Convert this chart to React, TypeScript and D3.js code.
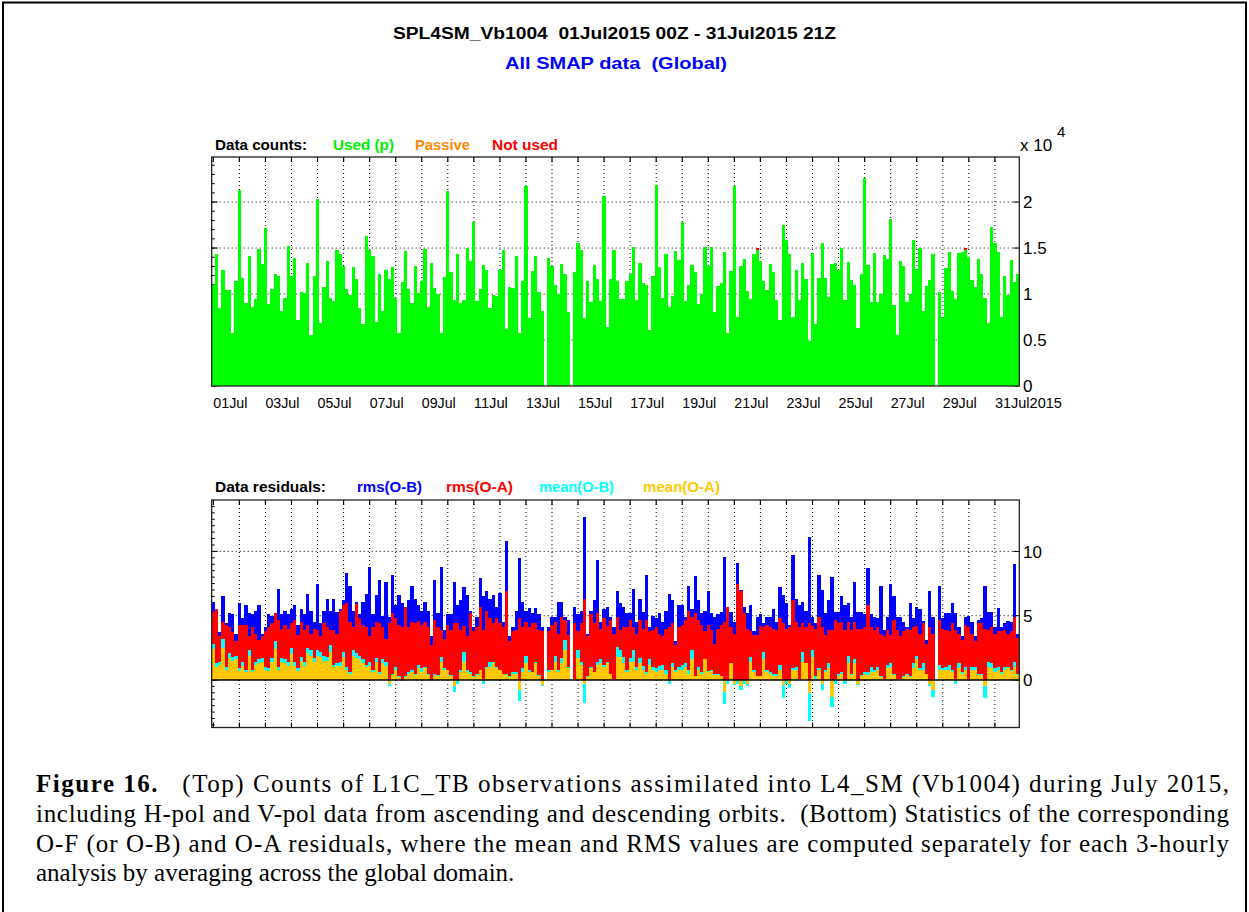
import React from 'react'
import * as d3 from 'd3'

const START = Date.UTC(2015, 6, 1, 0)
const STEP = 3 * 3600 * 1000
const DAY = 24 * 3600 * 1000

// used L1C_TB obs per 3-hourly analysis (x 10^4)
const usedCounts = [
  1.1, 1.43, 0.85, 1.26, 1.04, 1.04, 0.58, 1.14, 2.13, 1.17,
  0.9, 1.41, 0.86, 0.95, 1.49, 1.33, 1.72, 0.89, 1.05, 1.22,
  1.2, 0.82, 0.96, 1.52, 1.2, 1.39, 0.72, 1.02, 1.01, 1.34,
  0.55, 1.2, 2.03, 0.69, 1.08, 1.36, 0.96, 0.92, 1.48, 1.43,
  1.31, 1.05, 0.99, 1.29, 1.16, 0.85, 0.67, 1.63, 1.48, 1.41,
  0.7, 1.22, 0.82, 1.26, 1.16, 1.29, 0.96, 0.58, 1.13, 1.47,
  1.05, 0.9, 1.3, 1.01, 1.14, 1.49, 0.86, 1.34, 1.07, 1.0,
  0.58, 1.18, 2.12, 1.24, 0.94, 1.44, 0.9, 0.94, 1.5, 1.36,
  1.78, 0.92, 1.05, 1.32, 1.26, 0.85, 0.99, 0.98, 1.26, 1.48,
  0.62, 1.08, 1.07, 1.41, 0.58, 1.14, 2.17, 0.74, 1.25, 1.41,
  1.02, 0.82, 0, 1.39, 1.31, 1.1, 1.0, 1.33, 1.22, 0.8,
  0, 1.24, 1.56, 1.48, 0.74, 1.14, 0.91, 1.32, 1.16, 0.92,
  2.07, 0.64, 1.16, 1.48, 1.14, 0.95, 0.95, 1.14, 1.22, 1.51,
  0.93, 1.34, 1.12, 1.1, 0.61, 1.2, 2.19, 1.29, 0.96, 1.44,
  0.86, 0.98, 1.47, 1.37, 1.78, 0.92, 1.1, 1.32, 1.24, 0.89,
  1.0, 1.51, 1.3, 1.51, 0.81, 1.09, 1.12, 1.46, 0.58, 1.25,
  2.18, 0.75, 1.31, 1.38, 1.03, 0.95, 1.43, 1.48, 1.36, 1.14,
  1.04, 1.33, 1.24, 0.93, 0.72, 1.75, 1.59, 1.44, 0.75, 1.26,
  0.93, 1.34, 1.16, 0.49, 1.45, 0.67, 1.17, 1.55, 1.17, 0.97,
  1.33, 1.34, 1.26, 1.5, 0.93, 1.35, 1.15, 1.1, 0.63, 1.22,
  2.26, 1.32, 0.91, 1.45, 0.91, 1.0, 1.42, 1.38, 1.82, 0.88,
  0.55, 1.36, 1.31, 0.91, 1.0, 1.59, 1.27, 1.5, 0.82, 1.09,
  1.15, 1.44, 0, 1.02, 0.75, 1.28, 1.46, 1.03, 0.95, 1.45,
  1.46, 1.48, 1.4, 1.15, 1.08, 1.38, 1.22, 0.96, 0.69, 1.73,
  1.55, 1.46, 0.75, 1.2, 0.99, 1.37, 1.13, 1.22,
]

// not used obs (x 10^4), only non-zero analyses
const notUsedIdx = [167, 231]
const notUsedCounts = [0.02, 0.02]

const rmsOB = [
  6.1, 5.5, 3.7, 6.5, 4.4, 5.2, 5.1, 3.6, 6.0, 4.8,
  5.8, 5.2, 5.1, 5.4, 5.8, 3.6, 4.1, 5.1, 5.0, 5.1,
  7.1, 5.1, 5.4, 5.1, 5.5, 5.8, 4.3, 5.5, 5.1, 6.7,
  5.4, 4.5, 7.5, 4.4, 5.4, 6.3, 5.4, 6.3, 5.3, 5.5,
  6.2, 8.3, 7.3, 5.4, 6.1, 5.1, 6.1, 6.7, 8.8, 5.1,
  6.6, 7.8, 5.0, 7.6, 4.9, 8.2, 5.8, 6.6, 6.0, 5.7,
  6.2, 7.3, 6.3, 5.8, 5.4, 6.1, 5.4, 3.4, 7.8, 5.2,
  8.8, 3.9, 5.1, 5.1, 7.6, 5.8, 6.2, 7.2, 6.6, 5.4,
  4.1, 4.9, 7.9, 6.5, 6.9, 6.3, 6.6, 5.7, 6.8, 4.5,
  10.8, 3.4, 4.1, 5.4, 9.5, 6.1, 5.4, 5.6, 5.2, 5.6,
  5.1, 4.1, 0, 4.1, 4.9, 4.9, 6.1, 6.1, 4.9, 4.7,
  0, 5.7, 5.1, 5.4, 12.7, 3.6, 5.4, 6.2, 9.3, 4.5,
  5.5, 5.7, 4.9, 4.1, 6.9, 6.0, 5.7, 5.2, 5.2, 7.1,
  4.5, 6.3, 5.3, 8.2, 4.1, 5.0, 4.8, 5.2, 4.5, 5.4,
  6.7, 6.2, 3.0, 5.8, 5.8, 4.9, 7.3, 5.5, 8.1, 6.2,
  5.2, 5.4, 6.9, 5.2, 4.9, 5.1, 5.3, 9.6, 5.1, 5.3,
  4.5, 9.1, 7.0, 5.7, 5.2, 5.8, 3.8, 4.9, 5.1, 4.4,
  4.9, 4.9, 5.5, 4.5, 7.2, 6.6, 6.0, 4.3, 9.7, 6.3,
  5.8, 6.1, 5.4, 11.1, 4.9, 4.4, 8.2, 7.0, 5.2, 6.2,
  8.0, 5.3, 5.3, 6.5, 5.8, 6.0, 4.9, 7.6, 5.3, 5.3,
  5.1, 8.7, 5.1, 4.9, 4.8, 7.3, 3.9, 4.9, 7.5, 6.5,
  4.9, 4.9, 4.5, 4.1, 6.0, 4.8, 5.7, 5.5, 4.6, 3.1,
  6.9, 4.9, 0, 7.3, 4.8, 5.2, 5.2, 6.0, 5.2, 4.1,
  3.4, 4.9, 5.0, 4.5, 3.4, 4.7, 4.8, 7.3, 5.3, 5.3,
  4.1, 5.6, 4.1, 4.4, 4.6, 4.5, 9.0, 3.6,
]

const rmsOA = [
  5.3, 5.5, 3.4, 4.5, 4.3, 4.1, 3.7, 3.0, 4.3, 4.3,
  4.3, 3.4, 4.1, 3.6, 3.1, 3.4, 3.8, 4.1, 4.4, 5.2,
  4.7, 4.0, 4.3, 4.0, 4.4, 4.7, 3.5, 4.5, 3.9, 4.3,
  3.6, 4.0, 3.9, 3.4, 4.4, 4.1, 3.9, 3.9, 3.6, 5.4,
  5.8, 6.0, 4.5, 4.1, 5.9, 4.8, 4.3, 4.1, 3.4, 4.1,
  4.5, 4.4, 4.1, 3.2, 4.4, 5.2, 4.8, 4.3, 4.1, 5.7,
  4.1, 4.5, 4.4, 4.6, 4.3, 4.5, 4.1, 2.7, 4.7, 4.1,
  3.9, 3.2, 4.3, 3.9, 4.4, 4.4, 3.9, 4.2, 3.4, 5.2,
  3.8, 4.1, 5.7, 3.9, 5.4, 4.8, 4.4, 4.8, 4.4, 4.1,
  6.9, 3.0, 3.8, 3.9, 4.8, 4.1, 4.5, 4.1, 4.4, 4.4,
  3.9, 3.8, 0, 3.8, 4.3, 4.5, 3.6, 4.9, 4.7, 3.5,
  0, 4.4, 3.8, 4.4, 6.3, 3.4, 5.1, 4.4, 5.2, 4.0,
  4.8, 4.2, 4.7, 3.6, 4.9, 3.9, 4.1, 4.1, 4.7, 4.1,
  3.6, 4.7, 4.0, 4.7, 3.8, 3.9, 4.1, 3.6, 3.4, 4.0,
  4.1, 4.4, 2.7, 4.1, 4.3, 4.7, 5.4, 4.9, 5.2, 4.7,
  4.3, 3.8, 4.3, 3.9, 2.8, 4.0, 4.3, 4.5, 5.7, 4.1,
  3.6, 7.5, 6.9, 5.2, 4.0, 3.8, 3.5, 3.5, 4.2, 4.1,
  4.3, 4.1, 4.0, 3.9, 4.8, 4.4, 4.0, 4.1, 6.2, 4.5,
  4.1, 4.4, 4.1, 4.4, 4.2, 4.0, 4.9, 4.1, 3.5, 3.9,
  3.9, 4.7, 4.4, 4.5, 3.9, 4.5, 3.9, 4.5, 4.0, 4.0,
  4.1, 5.8, 4.1, 3.9, 4.1, 3.6, 3.4, 3.9, 3.5, 4.7,
  3.9, 3.4, 3.8, 4.0, 3.9, 4.1, 4.2, 3.6, 4.4, 2.8,
  4.1, 3.6, 0, 4.7, 4.0, 3.9, 3.8, 4.4, 3.9, 3.6,
  3.1, 4.3, 4.1, 3.6, 3.0, 4.4, 4.4, 4.0, 3.9, 4.1,
  3.6, 3.8, 3.8, 3.9, 3.6, 3.8, 4.9, 3.3,
]

const meanOB = [
  2.8, 1.3, 1.4, 3.2, 1.0, 2.1, 1.8, 1.9, 0.9, 1.4,
  0.8, 2.3, 0.8, 1.4, 1.6, 1.7, 1.0, 0.9, 1.7, 3.0,
  1.0, 1.7, 1.6, 1.4, 2.5, 1.4, 0.9, 1.8, 1.4, 2.5,
  2.3, 1.7, 2.3, 2.2, 1.9, 1.8, 2.7, 1.2, 1.3, 1.4,
  2.2, 1.0, 0.6, 2.3, 2.1, 1.9, 1.6, 1.2, 1.4, 0.8,
  1.7, 0.6, 1.6, 1.4, -0.5, 0.5, 1.0, 0.3, -0.05, 0.3,
  0.6, 0.8, 0.5, 1.2, 0.9, 1.0, 0.5, -0.1, 0.5, 0.4,
  1.8, 0.9, 0.8, 0.4, -0.9, -0.3, 0.8, 2.2, 0.8, 0.6,
  0.3, 0.5, 0.8, -0.3, 1.0, 1.4, 1.4, 1.0, 0.8, 0.5,
  0.5, 0.3, 0.6, 0.6, -1.6, 0.9, 1.9, 0.8, 0.6, 1.4,
  0.4, -0.5, 0, 0.8, 0.8, 1.9, 0.8, 1.7, 3.1, 1.0,
  0, 0.1, 2.3, 1.4, -1.8, 0.3, 1.0, 0.6, 1.4, 1.6,
  1.2, 1.4, 0.5, 0.0, 2.6, 2.3, 1.8, 0.8, 1.7, 2.3,
  1.0, 1.7, 1.1, 0.6, 1.6, 1.0, 0.9, 1.1, 1.2, 0.8,
  -0.3, 1.3, 0.8, 1.0, 1.2, 1.3, 0.8, 2.3, 0.3, 1.0,
  0.6, 0.8, 0.7, 0.8, 0.5, 0.5, 0.3, -1.9, -0.3, 1.0,
  -0.4, -0.3, -0.8, -0.3, -0.5, 1.8, 0.8, 0.3, 0.3, 2.2,
  0.8, 0.6, 0.5, 0.5, 1.2, -1.4, -0.3, -0.6, 0.9, 1.0,
  0.1, 2.2, 1.3, -3.2, 2.3, 0.3, 0.9, -0.8, 0.8, 1.3,
  -2.1, -0.3, 0.5, 0.6, -0.3, 1.9, 0.5, 1.6, -0.4, 0.4,
  0.6, 0.6, 1.0, 0.8, 1.0, 0.3, 0.1, 1.2, 1.3, 0.5,
  0.1, 0.1, 0.3, 0.5, 0.3, 1.3, 1.9, 0.9, 1.3, 0.5,
  -0.5, -1.3, 0, 1.2, 0.9, 1.0, 1.2, 0.8, -0.3, 1.3,
  0.6, 1.0, -0.1, 1.0, 1.0, 0.5, 0.5, -1.4, 1.4, 1.3,
  0.9, 1.0, 0.6, 1.0, 1.0, 0.8, 1.4, 0.5,
]

const meanOA = [
  2.4, 1.0, 1.2, 2.5, 0.8, 1.7, 1.5, 1.6, 0.7, 1.1,
  0.6, 1.9, 0.6, 1.2, 1.3, 1.4, 0.8, 0.7, 1.4, 2.4,
  0.8, 1.4, 1.3, 1.1, 2.0, 1.1, 0.7, 1.5, 1.1, 2.1,
  1.9, 1.4, 1.9, 1.8, 1.5, 1.5, 2.2, 1.0, 1.1, 1.1,
  1.8, 0.8, 0.5, 1.9, 1.7, 1.6, 1.3, 1.0, 1.1, 0.6,
  1.4, 0.5, 1.3, 1.1, -0.3, 0.4, 0.8, 0.2, 0.0, 0.2,
  0.5, 0.6, 0.4, 0.9, 0.6, 0.9, 0.4, -0.05, 0.4, 0.3,
  1.4, 0.8, 0.8, 0.3, -0.5, -0.1, 0.6, 1.4, 0.6, 0.5,
  0.2, 0.4, 0.8, -0.1, 0.9, 1.0, 1.3, 0.9, 0.8, 0.5,
  0.4, 0.2, 0.5, 0.5, -0.8, 0.6, 1.3, 0.6, 0.6, 1.3,
  0.3, -0.4, 0, 0.6, 0.8, 1.4, 0.6, 1.3, 2.3, 0.9,
  0, 0.1, 1.7, 1.2, -0.3, 0.2, 0.9, 0.6, 1.2, 1.3,
  1.0, 1.3, 0.5, 0.0, 1.8, 1.8, 1.3, 0.6, 1.4, 1.4,
  0.8, 1.3, 0.8, 0.5, 1.2, 0.8, 0.6, 0.8, 0.8, 0.5,
  -0.1, 1.0, 0.6, 0.8, 0.8, 1.0, 0.5, 1.6, 0.3, 0.8,
  0.5, 1.6, 0.6, 0.7, 0.4, 0.4, 0.3, -0.9, -0.1, 1.3,
  -0.3, -0.1, -0.5, -0.1, -0.3, 1.4, 0.6, 0.3, 0.3, 1.6,
  0.6, 0.5, 0.3, 0.3, 0.8, -0.4, -0.1, -0.3, 0.8, 0.8,
  0.1, 1.4, 1.3, -1.0, 1.8, 0.1, 0.8, -0.3, 0.6, 0.9,
  -1.3, 0.1, 0.3, 0.5, -0.1, 1.3, 0.4, 1.3, -0.3, 0.3,
  0.5, 0.4, 0.6, 0.6, 0.8, 0.2, 0.1, 0.9, 1.0, 0.4,
  0.1, 0.1, 0.2, 0.4, 0.2, 0.9, 1.6, 0.8, 0.8, 0.5,
  -0.3, -0.8, 0, 0.8, 0.8, 0.8, 0.8, 0.6, -0.1, 0.9,
  0.5, 0.8, 0.0, 0.8, 0.8, 0.4, 0.4, -0.5, 1.0, 0.9,
  0.6, 0.8, 0.5, 0.8, 0.9, 0.7, 1.0, 0.4,
]

const countTicks = [0, 0.5, 1, 1.5, 2]
const residTicks = [0, 5, 10]

const countLegend = [
  { label: 'Used (p)', color: '#00ee00', x: 333, w: 61 },
  { label: 'Passive', color: '#ff8800', x: 415, w: 55 },
  { label: 'Not used', color: '#ff0000', x: 492, w: 66 },
]
const residLegend = [
  { label: 'rms(O-B)', color: '#0000ff', x: 357, w: 65 },
  { label: 'rms(O-A)', color: '#ff0000', x: 446, w: 67 },
  { label: 'mean(O-B)', color: '#00ffff', x: 539, w: 75 },
  { label: 'mean(O-A)', color: '#ffc800', x: 643, w: 77 },
]

const caption = [
  'including H-pol and V-pol data from ascending and descending orbits.  (Bottom) Statistics of the corresponding',
  'O-F (or O-B) and O-A residuals, where the mean and RMS values are computed separately for each 3-hourly',
  'analysis by averaging across the global domain.',
]

const SANS = '"Liberation Sans", Arial, Helvetica, sans-serif'
const SERIF = '"Liberation Serif", "Times New Roman", serif'

const X0 = 211.7
const X1 = 1019.3

const x = d3
  .scaleUtc()
  .domain([new Date(START - STEP / 2), new Date(START + (usedCounts.length - 0.5) * STEP)])
  .range([X0, X1])
const days = d3.utcDay.range(new Date(START), new Date(START + 31 * DAY))
const fmtDay = d3.utcFormat('%dJul')

const barX = (i: number) => x(new Date(START + i * STEP - STEP / 2))
const barW = (i: number) => barX(i + 1) - barX(i)

const Grid = ({ y, ticks, minor }: { y: d3.ScaleLinear<number, number>; ticks: number[]; minor: number[] }) => {
  const [yb, yt] = y.range()
  return (
    <g>
      {days.slice(1).map((d, i) => (
        <line key={'v' + i} x1={x(d)} x2={x(d)} y1={yt} y2={yb} stroke="#000" strokeWidth={1} strokeDasharray="1,3" />
      ))}
      {ticks.filter((t) => t !== 0).map((t) => (
        <line key={'h' + t} x1={X0} x2={X1} y1={y(t)} y2={y(t)} stroke="#000" strokeWidth={1} strokeDasharray="1,3" />
      ))}
      {minor.map((t, i) => (
        <line key={'m' + i} x1={X0} x2={X0 + 3} y1={y(t)} y2={y(t)} stroke="#000" strokeWidth={1} />
      ))}
      {ticks.map((t) => (
        <g key={'t' + t}>
          <line x1={X0} x2={X0 + 6} y1={y(t)} y2={y(t)} stroke="#000" />
          <line x1={X1 - 6} x2={X1} y1={y(t)} y2={y(t)} stroke="#000" />
        </g>
      ))}
      {days.map((d, i) => (
        <g key={'d' + i}>
          <line x1={x(d)} x2={x(d)} y1={yt} y2={yt + 5} stroke="#000" strokeWidth={1.2} />
          <line x1={x(d)} x2={x(d)} y1={yb} y2={yb - 5} stroke="#000" strokeWidth={1.2} />
        </g>
      ))}
    </g>
  )
}

const Box = ({ y, ticks }: { y: d3.ScaleLinear<number, number>; ticks: number[] }) => {
  const [yb, yt] = y.range()
  return (
    <g>
      <rect x={X0} y={yt} width={X1 - X0} height={yb - yt} fill="none" stroke="#222" strokeWidth={1.3} />
      {ticks.map((t) => (
        <text key={t} x={1023} y={y(t)} dy="0.36em" fontFamily={SANS} fontSize={17} fill="#000">
          {t}
        </text>
      ))}
    </g>
  )
}

export default function App() {
  const yC = d3.scaleLinear().domain([0, 2.49]).range([386, 157])
  const yR = d3.scaleLinear().domain([-3.7, 14]).range([727.5, 500])
  const minorC = d3.range(0, 25).map((k) => k * 0.1)
  const minorR = d3.range(-7, 28).map((k) => k * 0.5)

  const residBar = (vals: number[], color: string, key: string) =>
    vals.map((v, i) =>
      v === 0 ? null : (
        <rect
          key={key + i}
          x={barX(i)}
          width={barW(i)}
          y={yR(Math.max(0, v))}
          height={Math.abs(yR(v) - yR(0))}
          fill={color}
        />
      )
    )

  return (
    <svg
      width={1249}
      height={912}
      style={{ position: 'absolute', left: 0, top: 0, background: '#fff' }}
      fontFamily={SANS}
    >
      <rect x={0} y={0} width={1249} height={912} fill="#fff" />
      <rect x={3} y={2.5} width={1243} height={940} fill="none" stroke="#000" strokeWidth={2} />

      <text x={393} y={39} fontSize={16} fontWeight="bold" textLength={443} lengthAdjust="spacingAndGlyphs" style={{ whiteSpace: 'pre' }}>
        {'SPL4SM_Vb1004  01Jul2015 00Z - 31Jul2015 21Z'}
      </text>
      <text x={505} y={69} fontSize={17} fontWeight="bold" fill="#0000ff" textLength={222} lengthAdjust="spacingAndGlyphs" style={{ whiteSpace: 'pre' }}>
        {'All SMAP data  (Global)'}
      </text>

      {/* counts panel */}
      <text x={215} y={150} fontSize={15} fontWeight="bold" textLength={92} lengthAdjust="spacingAndGlyphs">
        Data counts:
      </text>
      {countLegend.map((l) => (
        <text key={l.label} x={l.x} y={150} fontSize={15} fontWeight="bold" fill={l.color} textLength={l.w} lengthAdjust="spacingAndGlyphs">
          {l.label}
        </text>
      ))}
      <text x={1020} y={151} fontSize={17}>x 10</text>
      <text x={1057} y={137} fontSize={15}>4</text>

      <Grid y={yC} ticks={countTicks} minor={minorC} />
      <g shapeRendering="crispEdges">
        {usedCounts.map((v, i) =>
          v === 0 ? null : (
            <rect key={'u' + i} x={barX(i)} width={barW(i)} y={yC(v)} height={yC(0) - yC(v)} fill="#00ff00" />
          )
        )}
        {notUsedIdx.map((idx, k) => (
          <rect
            key={'n' + k}
            x={barX(idx)}
            width={barW(idx)}
            y={yC(usedCounts[idx] + notUsedCounts[k])}
            height={yC(usedCounts[idx]) - yC(usedCounts[idx] + notUsedCounts[k])}
            fill="#ff0000"
          />
        ))}
      </g>
      <Box y={yC} ticks={countTicks} />
      {days.map((d, i) =>
        i % 2 === 0 ? (
          <text
            key={'xl' + i}
            x={x(d)}
            y={408}
            fontSize={15}
            textLength={i === 30 ? 67 : 34}
            lengthAdjust="spacingAndGlyphs"
          >
            {i === 30 ? '31Jul2015' : fmtDay(d)}
          </text>
        ) : null
      )}

      {/* residuals panel */}
      <text x={215} y={492} fontSize={15} fontWeight="bold" textLength={111} lengthAdjust="spacingAndGlyphs">
        Data residuals:
      </text>
      {residLegend.map((l) => (
        <text key={l.label} x={l.x} y={492} fontSize={15} fontWeight="bold" fill={l.color} textLength={l.w} lengthAdjust="spacingAndGlyphs">
          {l.label}
        </text>
      ))}

      <Grid y={yR} ticks={residTicks} minor={minorR} />
      <g shapeRendering="crispEdges">
        {residBar(rmsOB, '#0000ff', 'b')}
        {residBar(rmsOA, '#ff0000', 'r')}
        {residBar(meanOB, '#00ffff', 'c')}
        {residBar(meanOA, '#ffc800', 'o')}
      </g>
      <line x1={X0} x2={X1} y1={yR(0)} y2={yR(0)} stroke="#000" strokeWidth={1.5} />
      <Box y={yR} ticks={residTicks} />

      {/* caption */}
      <g fontFamily={SERIF} fontSize={25} fill="#000">
        <text x={36} y={792} textLength={1193} lengthAdjust="spacing" style={{ whiteSpace: 'pre' }}>
          <tspan fontWeight="bold">Figure 16.</tspan>
          {'   (Top) Counts of L1C_TB observations assimilated into L4_SM (Vb1004) during July 2015,'}
        </text>
        <text x={36} y={822} textLength={1193} lengthAdjust="spacing" style={{ whiteSpace: 'pre' }}>
          {caption[0]}
        </text>
        <text x={36} y={852} textLength={1193} lengthAdjust="spacing" style={{ whiteSpace: 'pre' }}>
          {caption[1]}
        </text>
        <text x={36} y={881} style={{ whiteSpace: 'pre' }}>
          {caption[2]}
        </text>
      </g>
    </svg>
  )
}
